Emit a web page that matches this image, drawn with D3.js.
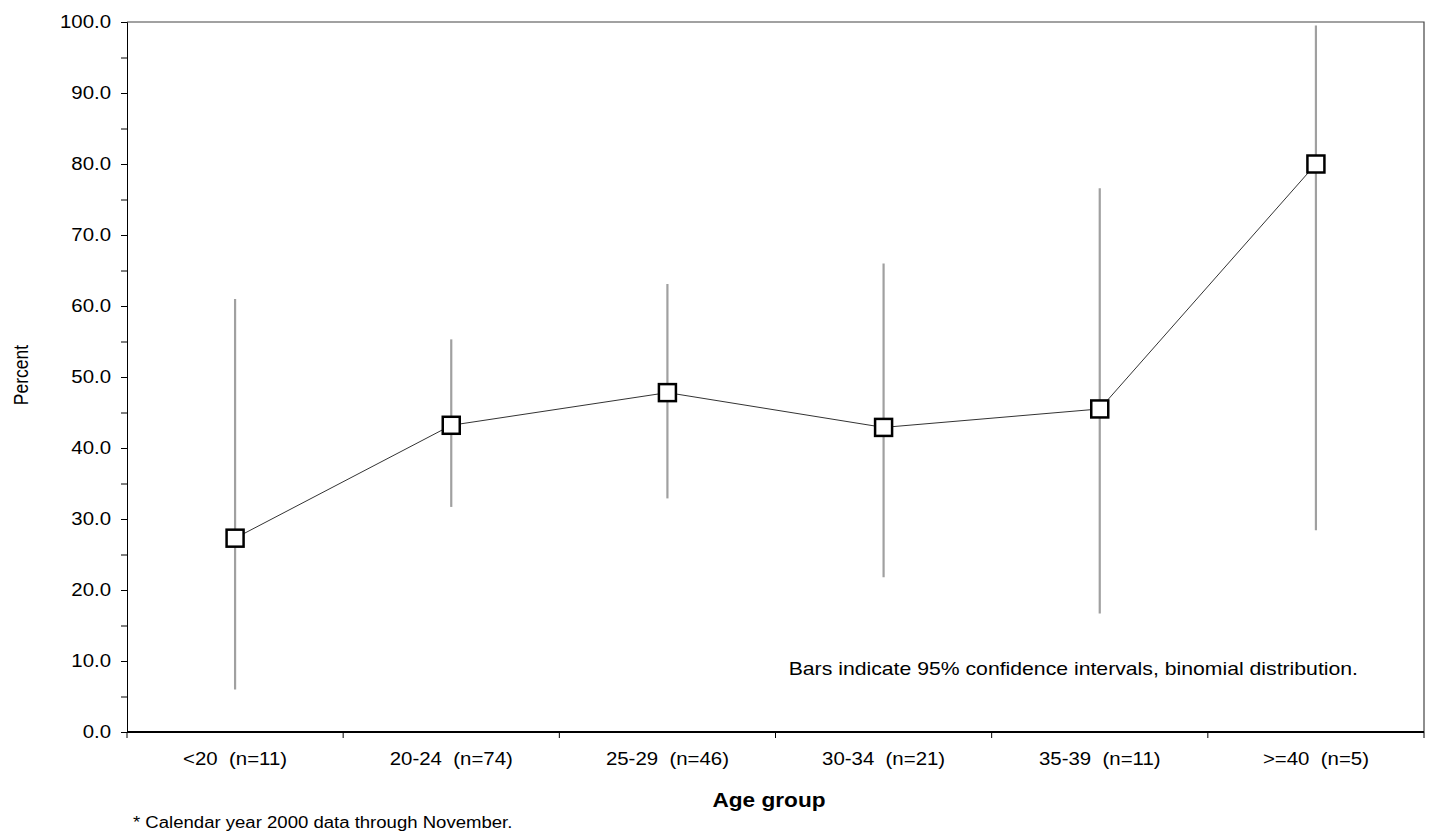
<!DOCTYPE html>
<html lang="en">
<head>
<meta charset="UTF-8">
<title>percent by age group</title>
<script src="https://cdn.jsdelivr.net/npm/d3@7"></script>
<style>
  body { margin: 0; background: #fff; }
  svg text { font-family: "Liberation Sans", Arial, sans-serif; fill: #000; white-space: pre; }
</style>
</head>
<body>
<script type="text/javascript">
// values
let categories = ['<20  (n=11)', '20-24  (n=74)', '25-29  (n=46)', '30-34  (n=21)', '35-39  (n=11)', '>=40  (n=5)'];
let percents = [27.3, 43.2, 47.8, 42.9, 45.5, 80.0];
let ciLow = [6.0, 31.7, 32.9, 21.8, 16.7, 28.4];
let ciHigh = [61.0, 55.3, 63.1, 66.0, 76.6, 99.5];
let yTicks = d3.range(0, 101, 5);

let width = 1433;
let height = 833;
let plotLeft = 127, plotRight = 1424, plotTop = 22, plotBottom = 732;
let k = 1.16; // the original text is a little stretched sideways
let fs = 17.6;

let svg = d3.select('body').append('svg')
  .attr('width', width)
  .attr('height', height);

let x = d3.scaleBand().domain(categories).range([plotLeft, plotRight]).padding(0);
let y = d3.scaleLinear().domain([0, 100]).range([plotBottom, plotTop]);

// plot frame, top and right
svg.append('path')
  .attr('d', 'M' + plotLeft + ',' + plotTop + 'H' + plotRight + 'V' + plotBottom)
  .attr('fill', 'none')
  .attr('stroke', '#444')
  .attr('stroke-width', 1.2);

// y axis
let yAxis = svg.append('g')
  .attr('transform', 'translate(' + plotLeft + ',0)')
  .call(d3.axisLeft(y)
    .tickValues(yTicks)
    .tickSize(6)
    .tickFormat(d => d % 10 === 0 ? d.toFixed(1) : ''));
yAxis.select('.domain').attr('stroke', '#000');
yAxis.selectAll('.tick line').attr('stroke', '#000');
yAxis.selectAll('.tick text')
  .attr('x', -16 / k)
  .attr('transform', 'scale(' + k + ',1)')
  .attr('font-size', fs);

// x axis: labels under the bands, ticks at the band edges
let xAxis = svg.append('g')
  .attr('transform', 'translate(0,' + plotBottom + ')')
  .call(d3.axisBottom(x).tickSize(0).tickPadding(21));
xAxis.select('.domain').remove();
xAxis.selectAll('.tick text')
  .attr('transform', 'scale(' + k + ',1)')
  .attr('font-size', fs);

let edges = categories.map(d => x(d)).concat([plotRight]);
xAxis.selectAll('.edge')
  .data(edges)
  .enter().append('line')
  .attr('class', 'edge')
  .attr('x1', d => d).attr('x2', d => d)
  .attr('y1', 0).attr('y2', 6)
  .attr('stroke', '#000');
xAxis.append('line')
  .attr('x1', plotLeft).attr('x2', plotRight)
  .attr('stroke', '#000')
  .attr('stroke-width', 2);

let cx = d => x(d) + x.bandwidth() / 2;

// confidence interval bars
svg.selectAll('.ci')
  .data(categories)
  .enter().append('line')
  .attr('class', 'ci')
  .attr('x1', cx).attr('x2', cx)
  .attr('y1', (d, i) => y(ciLow[i]))
  .attr('y2', (d, i) => y(ciHigh[i]))
  .attr('stroke', '#a0a0a0')
  .attr('stroke-width', 2.2);

// connecting line
svg.append('path')
  .datum(categories)
  .attr('fill', 'none')
  .attr('stroke', '#333')
  .attr('stroke-width', 1)
  .attr('d', d3.line().x(cx).y((d, i) => y(percents[i])));

// square markers
let s = 17;
svg.selectAll('.pt')
  .data(categories)
  .enter().append('rect')
  .attr('class', 'pt')
  .attr('x', d => cx(d) - s / 2)
  .attr('y', (d, i) => y(percents[i]) - s / 2)
  .attr('width', s).attr('height', s)
  .attr('fill', '#fff')
  .attr('stroke', '#000')
  .attr('stroke-width', 2.5);

function label(str, px, py, opts) {
  let g = svg.append('g')
    .attr('transform', 'translate(' + px + ',' + py + ')' + (opts.rotate ? ' scale(' + k + ',1) rotate(-90)' : ' scale(' + k + ',1)'));
  g.append('text')
    .attr('text-anchor', opts.anchor || 'start')
    .attr('font-size', opts.size || fs)
    .attr('font-weight', opts.bold ? 'bold' : 'normal')
    .text(str);
}

label('Percent', 28, 375, { anchor: 'middle', size: 17.5, rotate: true });
label('Age group', 769, 807, { anchor: 'middle', size: 19.5, bold: true });
label('Bars indicate 95% confidence intervals, binomial distribution.', 1358, 675, { anchor: 'end', size: 18.3 });
label('* Calendar year 2000 data through November.', 133, 828, { size: 16 });
</script>
</body>
</html>
